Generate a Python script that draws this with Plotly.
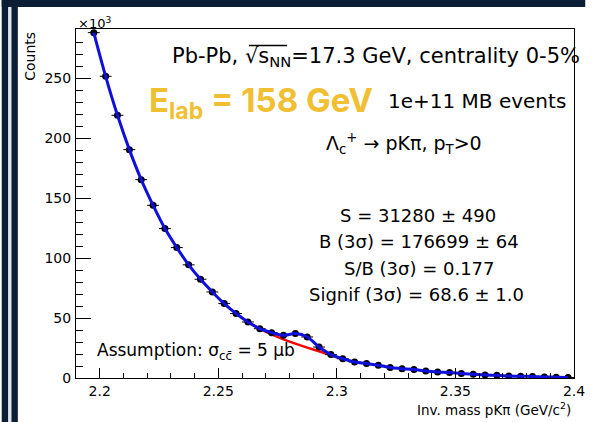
import numpy as np
import plotly.graph_objects as go

# Invariant-mass bin centres (GeV/c^2) and counts (in units of 10^3)
mass = [2.1975, 2.2025, 2.2075, 2.2125, 2.2175, 2.2225, 2.2275, 2.2325, 2.2375, 2.2425,
        2.2475, 2.2525, 2.2575, 2.2625, 2.2675, 2.2725, 2.2775, 2.2825, 2.2875, 2.2925,
        2.2975, 2.3025, 2.3075, 2.3125, 2.3175, 2.3225, 2.3275, 2.3325, 2.3375, 2.3425,
        2.3475, 2.3525, 2.3575, 2.3625, 2.3675, 2.3725, 2.3775, 2.3825, 2.3875, 2.3925,
        2.3975]
counts = [287.8, 251.4, 218.9, 190.3, 165.3, 143.9, 124.5, 108.7, 94.3, 82.3,
          71.7, 62.0, 53.7, 46.7, 41.1, 37.8, 35.6, 37.0, 34.2, 25.8,
          19.5, 16.0, 13.3, 12.0, 10.6, 8.7, 7.8, 7.0, 5.8, 5.0,
          4.5, 3.7, 3.1, 2.5, 2.2, 1.7, 1.4, 1.3, 0.9, 0.7,
          0.4]
bin_half_width = 0.0025

# Background-only component under the signal region
bkg_mass = [2.2625, 2.2675, 2.2725, 2.2775, 2.2825, 2.2875, 2.2925, 2.2975, 2.3025]
bkg_counts = [46.7, 41.1, 36.3, 32.2, 28.6, 25.3, 22.3, 19.0, 15.8]

x_ticks = [2.2, 2.25, 2.3, 2.35, 2.4]
x_tick_text = ["2.2", "2.25", "2.3", "2.35", "2.4"]
y_ticks = [0, 50, 100, 150, 200, 250]
y_tick_text = ["0", "50", "100", "150", "200", "250"]

counts_arr = np.array(counts)
stat_err = np.sqrt(counts_arr * 1e3) / 1e3

W, H = 597, 422
L, R, T, B = 76, 11.5, 29, 44
PW, PH = W - L - R, H - T - B


def px(x):
    return (x - L) / PW


def py(y):
    return (H - B - y) / PH


ROOT_FONT = "DejaVu Sans"

fig = go.Figure()

fig.add_trace(go.Scatter(
    x=bkg_mass, y=bkg_counts, mode="lines",
    line=dict(color="#ff0000", width=2.5, shape="spline"),
    hoverinfo="skip",
))
fig.add_trace(go.Scatter(
    x=mass, y=counts, mode="markers",
    marker=dict(color="black", size=7),
    error_x=dict(type="constant", value=bin_half_width, color="black", thickness=1, width=0),
    error_y=dict(type="data", array=stat_err, color="black", thickness=1, width=0),
))
fig.add_trace(go.Scatter(
    x=mass, y=counts, mode="lines",
    line=dict(color="#1010dd", width=3, shape="spline"),
    hoverinfo="skip",
))

axis_common = dict(
    showline=True, linecolor="black", linewidth=1, mirror=True,
    showgrid=False, zeroline=False,
    ticks="inside", tickcolor="black", tickwidth=1,
    tickfont=dict(family=ROOT_FONT, size=14, color="black"),
)

fig.update_xaxes(
    range=[2.19, 2.4], tickvals=x_ticks, ticktext=x_tick_text, ticklen=10,
    minor=dict(ticks="inside", ticklen=5, dtick=0.01, tick0=2.2, tickcolor="black", showgrid=False),
    **axis_common,
)
fig.update_yaxes(
    range=[0, PH / 1.2], tickvals=y_ticks, ticktext=y_tick_text, ticklen=15,
    minor=dict(ticks="inside", ticklen=7, dtick=10, tick0=0, tickcolor="black", showgrid=False),
    ticklabelstandoff=1,
    **axis_common,
)

annotations = [
    dict(text="×10<sup>3</sup>", x=px(76), y=py(23), xanchor="left", yanchor="middle",
         font=dict(family=ROOT_FONT, size=13)),
    dict(text="Counts", x=px(18), y=py(30), xanchor="left", yanchor="top", textangle=-90,
         font=dict(family=ROOT_FONT, size=14)),
    dict(text="Inv. mass pKπ (GeV/c<sup>2</sup>)", x=px(584), y=py(409), xanchor="right",
         yanchor="middle", font=dict(family=ROOT_FONT, size=13.5)),
    dict(text="Pb-Pb, √s<sub>NN</sub>=17.3 GeV, centrality 0-5%",
         x=px(172), y=py(57), xanchor="left", yanchor="middle",
         font=dict(family=ROOT_FONT, size=21)),
    dict(text="1e+11 MB events", x=px(393), y=py(101), xanchor="left", yanchor="middle",
         font=dict(family=ROOT_FONT, size=20)),
    dict(text="Λ<sub>c</sub><sup>+</sup> → pKπ, p<sub>T</sub>&gt;0", x=px(330), y=py(143),
         xanchor="left", yanchor="middle", font=dict(family=ROOT_FONT, size=19)),
    dict(text="S = 31280 ± 490", x=px(426), y=py(215), xanchor="center", yanchor="middle",
         font=dict(family=ROOT_FONT, size=18)),
    dict(text="B (3σ) = 176699 ± 64", x=px(427), y=py(241), xanchor="center", yanchor="middle",
         font=dict(family=ROOT_FONT, size=18)),
    dict(text="S/B (3σ) = 0.177", x=px(427), y=py(268), xanchor="center", yanchor="middle",
         font=dict(family=ROOT_FONT, size=18)),
    dict(text="Signif (3σ) = 68.6 ± 1.0", x=px(424), y=py(294), xanchor="center", yanchor="middle",
         font=dict(family=ROOT_FONT, size=18)),
    dict(text="Assumption: σ<sub>cc\u0304</sub> = 5 μb", x=px(95), y=py(351), xanchor="left",
         yanchor="middle", font=dict(family=ROOT_FONT, size=17)),
    dict(text="<b>E<sub>lab</sub> = 158 GeV</b>", x=px(149), y=py(102), xanchor="left",
         yanchor="middle", font=dict(family="Inter", size=33, color="#f0c032")),
]
for a in annotations:
    a.update(xref="paper", yref="paper", showarrow=False)

# Dark slide border around the figure
navy = "#0c1e36"
shapes = [
    dict(type="rect", x0=px(0), x1=px(16.5), y0=py(0), y1=py(H), fillcolor=navy),
    dict(type="rect", x0=px(0), x1=px(W), y0=py(0), y1=py(7), fillcolor=navy),
    dict(type="rect", x0=px(6.5), x1=px(10), y0=py(7), y1=py(H), fillcolor="#dfe5ec"),
]
for s in shapes:
    s.update(xref="paper", yref="paper", line=dict(width=0), layer="above")

# Square-root bar over s_NN
shapes.append(dict(type="line", xref="paper", yref="paper",
                   x0=px(253), x1=px(292), y0=py(45.5), y1=py(45.5),
                   line=dict(color="black", width=1.3), layer="above"))

fig.update_layout(
    width=W, height=H,
    margin=dict(l=L, r=R, t=T, b=B, pad=0),
    paper_bgcolor="white", plot_bgcolor="white",
    showlegend=False,
    font=dict(family=ROOT_FONT, color="black"),
    annotations=annotations, shapes=shapes,
)

fig.write_html("out.html")
